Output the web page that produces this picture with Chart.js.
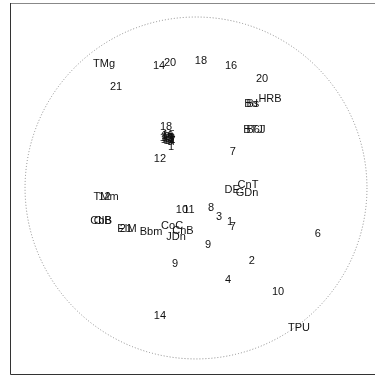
<!DOCTYPE html>
<html>
<head>
<meta charset="utf-8">
<script src="https://cdn.jsdelivr.net/npm/chart.js@4"></script>
<style>
  html, body { margin: 0; padding: 0; background: #fff; }
  #wrap { width: 375px; height: 377px; }
</style>
</head>
<body>
<div id="wrap"><canvas id="c"></canvas></div>
<script>
// Biplot labels: name, first and second coordinate (unit circle scale)
const pointLabels = [
  "TMg", "14", "20", "18", "16", "20", "21",
  "HRB", "Bd", "Bs", "BTJ", "B6J",
  "18", "2", "5", "13", "15", "17", "19", "3", "11", "16", "4", "8", "10", "1",
  "7", "12", "CnT", "DE", "GDn", "TMm", "12",
  "10", "11", "8", "3", "1", "7", "6",
  "CbB", "CIB", "EIM", "21", "Bbm", "CoC", "CnB", "JDn",
  "9", "2", "9", "4", "10", "14", "TPU"
];
const dim1 = [
  -0.538, -0.216, -0.152, 0.029, 0.205, 0.386, -0.468,
  0.433, 0.322, 0.333, 0.333, 0.351,
  -0.175, -0.170, -0.150, -0.170, -0.160, -0.155, -0.165, -0.145, -0.160, -0.168, -0.140, -0.152, -0.176, -0.146,
  0.216, -0.211, 0.304, 0.211, 0.298, -0.526, -0.535,
  -0.082, -0.041, 0.088, 0.135, 0.199, 0.216, 0.713,
  -0.556, -0.545, -0.404, -0.410, -0.263, -0.140, -0.076, -0.117,
  0.070, 0.327, -0.123, 0.187, 0.480, -0.211, 0.602
];
const dim2 = [
  0.725, 0.713, 0.731, 0.743, 0.713, 0.637, 0.591,
  0.520, 0.491, 0.491, 0.339, 0.339,
  0.357, 0.300, 0.290, 0.280, 0.310, 0.275, 0.295, 0.285, 0.285, 0.305, 0.268, 0.272, 0.292, 0.240,
  0.211, 0.170, 0.018, -0.012, -0.029, -0.053, -0.053,
  -0.129, -0.129, -0.117, -0.170, -0.199, -0.228, -0.269,
  -0.193, -0.193, -0.240, -0.240, -0.257, -0.222, -0.251, -0.287,
  -0.333, -0.427, -0.444, -0.538, -0.608, -0.749, -0.819
];

const points = dim1.map((x, i) => ({ x: x, y: dim2[i] }));

// Draws the open frame, the dotted unit circle and the text labels
const biplotDecor = {
  id: 'biplotDecor',
  beforeDatasetsDraw(chart) {
    const { ctx, chartArea: a, scales: { x, y } } = chart;
    ctx.save();
    ctx.lineWidth = 1;
    ctx.strokeStyle = '#888';
    ctx.beginPath();
    ctx.moveTo(a.left, a.top + 0.5);
    ctx.lineTo(chart.width, a.top + 0.5);
    ctx.stroke();
    ctx.strokeStyle = '#333';
    ctx.beginPath();
    ctx.moveTo(a.left + 0.5, a.top);
    ctx.lineTo(a.left + 0.5, a.bottom - 0.5);
    ctx.lineTo(chart.width, a.bottom - 0.5);
    ctx.stroke();
    const cx = x.getPixelForValue(0), cy = y.getPixelForValue(0);
    const r = x.getPixelForValue(1) - cx;
    ctx.setLineDash([1, 2]);
    ctx.strokeStyle = '#888';
    ctx.beginPath();
    ctx.arc(cx, cy, r, 0, Math.PI * 2);
    ctx.stroke();
    ctx.restore();
  },
  afterDatasetsDraw(chart) {
    const { ctx } = chart;
    const meta = chart.getDatasetMeta(0);
    ctx.save();
    ctx.font = '11px "Liberation Sans", Arial, sans-serif';
    ctx.fillStyle = '#111';
    ctx.textAlign = 'center';
    ctx.textBaseline = 'middle';
    meta.data.forEach((el, i) => {
      ctx.fillText(pointLabels[i], el.x, el.y);
    });
    ctx.restore();
  }
};

new Chart(document.getElementById('c'), {
  type: 'scatter',
  data: {
    datasets: [{
      data: points,
      pointRadius: 0,
      pointHoverRadius: 0
    }]
  },
  options: {
    responsive: true,
    maintainAspectRatio: false,
    animation: false,
    layout: { padding: { left: 10, top: 3, right: 0, bottom: 2 } },
    plugins: { legend: { display: false }, tooltip: { enabled: false } },
    scales: {
      x: { type: 'linear', min: -1.088, max: 1.047, display: false },
      y: { type: 'linear', min: -1.094, max: 1.082, display: false }
    }
  },
  plugins: [biplotDecor]
});
</script>
</body>
</html>
